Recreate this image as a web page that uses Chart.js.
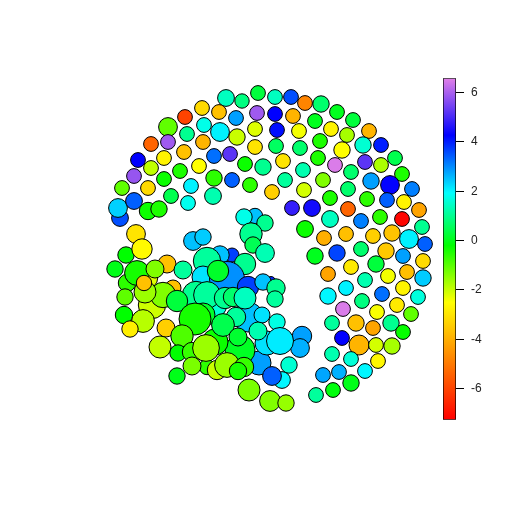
<!DOCTYPE html>
<html>
<head>
<meta charset="utf-8">
<title>Bubble map</title>
<script src="https://cdn.jsdelivr.net/npm/chart.js@4"></script>
<style>
    html, body { margin: 0; padding: 0; background: #fff; }
    #page { position: relative; width: 512px; height: 512px; overflow: hidden; }
    #mapBox { position: absolute; left: 0; top: 0; width: 512px; height: 512px; }
    #barBox { position: absolute; left: 440px; top: 64px; width: 72px; height: 370px; }
</style>
</head>
<body>
<div id="page">
    <div id="mapBox"><canvas id="mapChart"></canvas></div>
    <div id="barBox"><canvas id="barChart"></canvas></div>
</div>
<script>
// bubbles, back to front: position, size and value
const bubbleX = [
    226,242,258,202,219,185,236,257,168,204,220,255,187,237,151,168,203,255,184,138,
    164,214,230,151,245,263,134,180,199,164,214,232,122,148,191,250,213,171,188,272,
    120,118,134,148,159,136,
    275,291,305,321,337,275,293,315,353,277,299,331,369,347,320,276,300,363,381,342,
    318,283,335,365,381,395,303,351,285,323,371,402,390,304,348,412,330,367,387,404,
    292,312,348,419,330,380,361,402,422,305,324,346,373,392,409,425,386,361,337,315,
    403,423,351,376,407,328,388,423,365,403,346,382,328,418,362,397,343,377,411,332,
    356,391,373,403,342,359,376,392,332,351,378,365,339,323,351,333,316,
    126,142,115,167,127,173,152,147,137,155,163,145,125,144,124,143,130,166,
    193,203,255,265,244,251,253,265,232,220,207,245,183,203,227,218,271,248,263,276,275,
    302,300,259,282,272,289,267,248,262,277,258,280,
    213,196,207,225,233,245,177,236,
    240,215,203,223,238,195,182,160,178,192,207,192,206,217,227,244,238,177,249,270,286
];
const bubbleY = [
    98,101,93,108,112,117,118,113,127,125,132,129,134,137,144,142,142,147,152,160,
    158,156,154,168,164,167,176,171,166,179,178,180,188,188,186,185,196,196,203,192,
    218,208,201,211,209,234,
    97,97,103,104,112,114,116,121,120,130,131,129,131,135,141,146,148,145,145,150,
    158,161,165,162,165,158,170,172,180,180,181,174,185,190,189,189,198,199,200,202,
    208,208,209,210,219,217,221,219,227,229,238,234,236,233,239,244,251,249,253,256,
    256,261,267,264,272,274,276,278,280,288,288,294,296,297,301,305,309,312,314,323,
    323,323,328,332,338,345,345,346,354,359,361,371,372,375,383,390,395,
    255,249,269,264,283,288,305,278,273,269,295,292,297,283,315,321,329,328,
    241,237,216,223,217,234,245,253,255,255,261,264,270,277,279,271,281,287,282,288,299,
    336,348,363,380,376,365,343,317,315,322,331,341,
    305,295,295,298,297,298,301,317,
    350,342,315,325,337,319,336,347,353,352,367,366,348,370,365,367,371,376,390,401,403
];
const bubbleSize = [
    8.4,7.2,7.4,7.4,7.4,7.4,7.4,7.4,9.4,7.4,9.4,7.4,7.4,8.2,7.4,7.4,7.4,7.4,7.4,7.4,
    7.4,7.4,7.4,7.4,7.4,8.2,7.4,7.4,7.4,7.4,8.2,7.4,7.4,7.4,7.4,7.4,8.4,7.4,7.4,7.4,
    8.4,9.4,8.4,8.7,8.2,9.4,
    7.4,7.4,7.4,8.2,7.4,7.4,7.4,7.4,7.4,7.4,7.4,7.4,7.4,7.4,7.4,7.4,7.4,8.2,7.4,8.2,
    7.4,7.4,7.4,7.4,7.4,7.4,7.4,7.4,7.4,7.4,8.2,7.4,9.4,7.4,7.4,7.4,7.4,7.4,7.4,7.4,
    7.4,8.4,7.4,7.4,8.4,7.4,7.4,7.4,7.4,8.4,7.4,7.4,7.4,8.2,9.4,7.4,8.2,7.4,8.2,8.2,
    7.4,7.4,7.4,8.2,7.4,7.4,7.4,8.2,7.4,7.4,7.4,7.4,8.2,7.4,7.4,7.4,7.4,7.4,7.4,7.4,
    8.2,8.2,7.4,7.4,7.4,10,7.4,8.2,7.4,7.4,7.4,7.4,7.4,7.4,8.2,7.4,7.4,
    8.2,10.2,8.2,9,8.7,8,13.7,10.7,12.4,9,12.7,11,8.2,7.7,8.7,11.4,8.2,9,
    9.4,8.2,7.7,8.2,8.2,11.2,8.2,9.4,7,9.2,13.7,10.7,9,11,17.5,10.7,4.5,10.7,8.2,9.2,8.2,
    9.7,9.4,12,8.4,9.4,8.2,12,15,8,8.2,9,13.5,
    13.7,13.7,13.4,10.7,9.7,11,10.7,9.7,
    15,13,12,11.4,9,16,11.2,11,8.2,9.7,7.7,9,13.4,9.7,12.4,9.7,8.7,8.2,11,10.4,8.2
];
const bubbleValue = [
    1.4,0.87,0.3,-3.2,-3.65,-6,2.8,5.9,-1.07,1.75,2.05,-2.2,1,-2,-5.4,5.9,-3.9,-3,-3.65,4.27,
    -2.7,3.25,5.2,-1.93,-0.3,1,5.8,-0.45,-2.5,-0.3,-0.6,3.4,-1.07,-3.2,2.05,-0.6,1.27,0.45,1.8,-3.4,
    3.55,2.35,3.4,-0.3,-0.45,-3,
    1.4,3.55,-4.8,0.7,0.05,4.27,-3.9,0.05,0.3,4.15,-2.4,-2.7,-3.9,-1.7,-0.45,0.6,0.7,1.55,4,-2.5,
    -0.45,-3,6.5,5.2,-1.75,0.45,1.27,0.7,1.1,-1.35,2.8,-0.45,4.3,-2.1,0.7,3.1,-0.45,-0.6,3.4,-2.7,
    4.8,4.45,-5.4,-4.2,1.4,-0.6,3.1,-7.16,1,-0.3,-4,-3.7,-3.4,-3.6,2.05,3.4,-3.5,0.7,3.65,0.05,
    2.8,-3.2,-2.9,0.3,-3.7,-4.2,-2.4,2.4,1.27,-2.7,2.05,3.25,2,1.65,0.87,-2.9,6.5,-2.45,-1.07,1.1,
    -3.65,1,-4.2,-0.25,4.27,-3.9,-2.1,-1.7,1.27,1.6,-2.65,2,2.65,2.75,0,-0.1,1.1,
    -0.2,-2.6,0,-3.65,-0.6,-3.65,-2.05,-2.2,-0.4,-1.35,-1.35,-1.6,-1.05,-3.65,-0.2,-1.85,-2.8,-3.4,
    2.5,2.4,2.5,1,1.75,1,0.5,1.3,3.7,2.5,1.1,1,1.1,2.2,2.95,0.15,3.9,3.68,2.5,1,1.1,
    2.8,2.65,2.8,2,3.4,1.55,2.2,2.5,2.2,1.7,1.27,2.1,
    1.6,1,1.1,1,0.7,1.4,0.3,1.1,
    0.1,-0.3,0.15,0.45,0.2,-0.4,-0.9,-1.95,-0.2,-0.7,-0.6,-1.3,-1.6,-2,-1.6,-0.7,-0.4,0,-1.3,-1.35,-1.55
];

// colour key
const keyMin = -7.26;
const keyMax = 6.58;
const keyTicks = [-6, -4, -2, 0, 2, 4, 6];
const keyStops = [-7.26, -2.5, -0.2, 1.93, 4.27, 6.58];
const keyColors = [[255, 0, 0], [255, 255, 0], [0, 255, 0], [0, 255, 255], [0, 0, 255], [226, 128, 232]];

function colorFor(z) {
    let i = 0;
    while (i < keyStops.length - 2 && z > keyStops[i + 1]) i++;
    const t = Math.min(1, Math.max(0, (z - keyStops[i]) / (keyStops[i + 1] - keyStops[i])));
    const c = keyColors[i].map((v, k) => Math.round(v + (keyColors[i + 1][k] - v) * t));
    return `rgb(${c[0]},${c[1]},${c[2]})`;
}

Chart.defaults.animation = false;
Chart.defaults.responsive = true;
Chart.defaults.maintainAspectRatio = false;
Chart.defaults.plugins.legend.display = false;
Chart.defaults.plugins.tooltip.enabled = false;

new Chart(document.getElementById('mapChart'), {
    type: 'bubble',
    data: {
        datasets: [{
            data: bubbleX.map((x, i) => ({ x: x, y: bubbleY[i], r: bubbleSize[i] })),
            backgroundColor: bubbleValue.map(colorFor),
            borderColor: '#000',
            borderWidth: 1
        }]
    },
    options: {
        layout: { autoPadding: false },
        scales: {
            x: { display: false, min: 0, max: 512 },
            y: { display: false, min: 0, max: 512, reverse: true }
        }
    }
});

new Chart(document.getElementById('barChart'), {
    type: 'bar',
    data: {
        labels: [''],
        datasets: [{
            data: [[keyMin, keyMax]],
            backgroundColor: (ctx) => {
                const { chart } = ctx;
                if (!chart.chartArea) return '#fff';
                const y = chart.scales.y;
                const grad = chart.ctx.createLinearGradient(0, y.bottom, 0, y.top);
                keyStops.forEach((s, i) => {
                    const c = keyColors[i];
                    grad.addColorStop((s - keyMin) / (keyMax - keyMin), `rgb(${c[0]},${c[1]},${c[2]})`);
                });
                return grad;
            },
            borderColor: '#000',
            borderWidth: 1,
            borderSkipped: false,
            barPercentage: 1,
            categoryPercentage: 1
        }]
    },
    options: {
        layout: { autoPadding: false, padding: { left: 3 } },
        scales: {
            x: { display: false },
            y: {
                position: 'right',
                min: keyMin,
                max: keyMax,
                afterBuildTicks: (s) => { s.ticks = keyTicks.map(v => ({ value: v })); },
                afterFit: (s) => { s.width = 56; },
                border: { display: false },
                grid: { drawOnChartArea: false, drawTicks: true, tickLength: 8, color: '#000' },
                ticks: { color: '#222', padding: 7, font: { family: 'Liberation Sans', size: 12 } }
            }
        }
    }
});
</script>
</body>
</html>
